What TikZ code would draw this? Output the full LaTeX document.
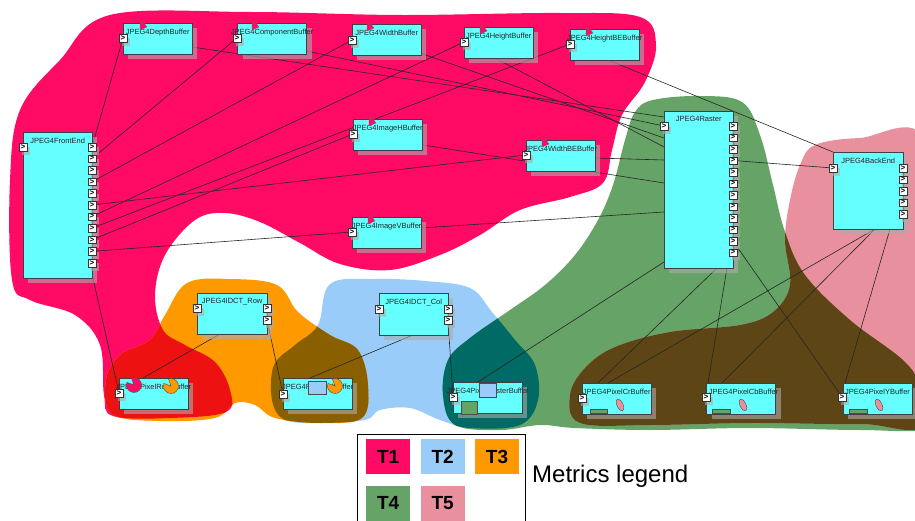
\documentclass[tikz,border=0pt]{standalone}
\usepackage{fontspec}
\setmainfont{Liberation Sans}
\usepackage{tikz}
\usetikzlibrary{positioning}
\usetikzlibrary{shapes,shadows}
\definecolor{boxcyan}{HTML}{66FFFF}
\definecolor{tone}{HTML}{FF0A64}
\definecolor{ttwo}{HTML}{9ACCFA}
\definecolor{tthree}{HTML}{FF9900}
\definecolor{tfour}{HTML}{66A366}
\definecolor{tfive}{HTML}{E8909E}
\definecolor{onethree}{HTML}{EE1111}
\definecolor{twothree}{HTML}{8A5F00}
\definecolor{twofour}{HTML}{006A64}
\definecolor{fourfive}{HTML}{5D4515}
\pgfdeclarelayer{blobs}
\pgfdeclarelayer{wires}
\pgfsetlayers{blobs,wires,main}
\tikzstyle{block} = [rectangle, draw=black!75, fill=boxcyan, anchor=north west,
    inner sep=0pt, minimum width=69pt, minimum height=31pt,
    drop shadow={shadow xshift=5pt, shadow yshift=-5pt, fill=gray!65, opacity=0.6}]
\tikzstyle{boxlabel} = [anchor=north, inner sep=0pt, yshift=-5.5pt,
    font=\fontsize{7.5}{8}\selectfont, text=black!85]
\tikzstyle{port} = [rectangle, draw=black!80, fill=white, minimum size=7.5pt, inner sep=0pt,
    font=\bfseries\fontsize{8}{8}\selectfont,
    drop shadow={shadow xshift=3pt, shadow yshift=-4pt, fill=gray!65, opacity=0.6}]
\tikzstyle{line} = [draw, black!85, line width=0.6pt]
\tikzstyle{tile} = [rectangle, anchor=north west, minimum width=44pt, minimum height=35pt,
    inner sep=0pt, font=\bfseries\fontsize{19}{20}\selectfont]
\tikzset{
  bufflag/.pic={\filldraw[fill=tone, draw=black!60, line width=.3pt] (0,0) -- (0,8) -- (7,5) .. controls (6,2) and (3,0) .. (0,0) -- cycle;},
  pacman/.pic={\filldraw[fill=#1, draw=black!70, line width=.4pt] (0,0) -- (250:7.5) arc[start angle=250, end angle=560, radius=7.5] -- cycle;},
  leaf/.pic={\filldraw[fill=tfive, draw=black!70, line width=.4pt, rotate=25] (0,0) ellipse [x radius=3, y radius=6.5];}
}
% blob outlines (pixel grid, y downwards)
\def\blobone{plot[smooth cycle, tension=0.6] coordinates {(110,15) (250,12) (400,15) (560,13) (640,17) (656,45) (645,82) (622,115) (612,150) (603,183) (570,197) (520,210) (480,235) (440,255) (390,270) (340,264) (300,243) (260,222) (225,213) (195,220) (165,255) (155,295) (163,330) (185,345) (215,362) (230,390) (226,412) (170,418) (113,416) (104,395) (100,345) (75,315) (30,300) (12,280) (10,180) (20,110) (60,60)}}
\def\blobtwo{plot[smooth cycle, tension=0.6] coordinates {(330,284) (375,279) (425,281) (470,288) (492,312) (515,340) (535,365) (538,400) (520,425) (470,428) (440,420) (410,408) (380,410) (365,420) (320,423) (285,420) (272,400) (274,365) (295,345) (318,325)}}
\def\blobthree{plot[smooth cycle, tension=0.6] coordinates {(187,283) (230,279) (277,285) (298,312) (330,335) (358,350) (368,385) (362,418) (320,423) (275,418) (255,405) (235,403) (215,418) (160,421) (112,414) (106,380) (120,355) (150,340) (165,315)}}
\def\blobfour{plot[smooth cycle, tension=0.6] coordinates {(653,100) (700,96) (742,102) (760,135) (773,185) (785,232) (805,275) (850,320) (905,362) (925,395) (928,428) (860,430) (750,428) (650,430) (575,428) (540,425) (500,430) (455,425) (443,395) (448,360) (470,338) (510,310) (545,285) (575,255) (598,220) (613,185) (625,140) (635,112)}}
\def\blobfive{plot[smooth cycle, tension=0.6] coordinates {(815,145) (860,138) (925,140) (932,300) (930,420) (860,424) (750,423) (650,425) (580,423) (570,395) (585,368) (615,347) (670,332) (740,325) (773,312) (790,285) (785,240) (790,200) (800,165)}}

\begin{document}
\begin{tikzpicture}[x=1pt, y=-1pt]
        \useasboundingbox (0,0) rectangle (915,521);
            % Metric regions
        \begin{pgfonlayer}{blobs}
        \fill [tone] \blobone;
        \fill [ttwo] \blobtwo;
        \fill [tthree] \blobthree;
        \fill [tfour] \blobfour;
        \fill [tfive] \blobfive;
        \begin{scope} \clip \blobone; \fill [onethree] \blobthree; \end{scope}
        \begin{scope} \clip \blobtwo; \fill [twothree] \blobthree; \end{scope}
        \begin{scope} \clip \blobtwo; \fill [twofour] \blobfour; \end{scope}
        \begin{scope} \clip \blobfour; \fill [fourfive] \blobfive; \end{scope}
        \end{pgfonlayer}
            % Nodes
        \node [block, label={[boxlabel]north:JPEG4DepthBuffer}] (depth) at (123,23) {};
        \node [block, right = 45pt of depth, label={[boxlabel]north:JPEG4ComponentBuffer}] (comp) {};
        \node [block, label={[boxlabel]north:JPEG4WidthBuffer}] (width) at (352,24) {};
        \node [block, label={[boxlabel]north:JPEG4HeightBuffer}] (height) at (464,27) {};
        \node [block, label={[boxlabel]north:JPEG4HeightBEBuffer}] (heightbe) at (570,29) {};
        \node [block, label={[boxlabel]north:JPEG4ImageHBuffer}] (imageh) at (353,119) {};
        \node [block, label={[boxlabel]north:JPEG4ImageVBuffer}] (imagev) at (352,217) {};
        \node [block, label={[boxlabel]north:JPEG4WidthBEBuffer}] (widthbe) at (526,140) {};
        \node [block, minimum height=146pt, label={[boxlabel]north:JPEG4FrontEnd}] (frontend) at (23,132) {};
        \node [block, minimum height=157pt, label={[boxlabel]north:JPEG4Raster}] (raster) at (664,111) {};
        \node [block, minimum width=70pt, minimum height=77pt, label={[boxlabel]north:JPEG4BackEnd}] (backend) at (833,152) {};
        \node [block, minimum width=70pt, minimum height=41pt, label={[boxlabel]north:JPEG4IDCT\_Row}] (idctrow) at (197,293) {};
        \node [block, minimum height=42pt, label={[boxlabel]north:JPEG4IDCT\_Col}] (idctcol) at (379,293) {};
        \node [block, label={[boxlabel]north:JPEG4PixelRowBuffer}] (rowbuf) at (119,378) {};
        \node [block, label={[boxlabel]north:JPEG4PixelColBuffer}] (colbuf) at (283,378) {};
        \node [block, label={[boxlabel]north:JPEG4PixelRasterBuffer}] (rasbuf) at (453,382) {};
        \node [block, label={[boxlabel]north:JPEG4PixelCrBuffer}] (crbuf) at (582,383) {};
        \node [block, right = 55pt of crbuf, label={[boxlabel, xshift=2.5pt]north:JPEG4PixelCbBuffer}] (cbbuf) {};
        \node [block, right = 67pt of cbbuf, label={[boxlabel]north:JPEG4PixelYBuffer}] (ybuf) {};
            % Ports
        \foreach \i in {1,...,11} \node [port] (fe-o\i) at (92,135.4+11.6*\i) {>};
        \foreach \i in {1,...,12} \node [port] (ras-o\i) at (733,114.5+11.5*\i) {>};
        \foreach \i in {1,...,5} \node [port] (be-o\i) at (903,156.5+11.5*\i) {>};
        \node [port] (fe-in) at (23,147) {>};
        \node [port] (ras-in) at (664,126) {>};
        \node [port] (be-in) at (833,168) {>};
        \node [port] (row-in) at (197,308) {>};
        \node [port] (row-o1) at (267,308) {>};
        \node [port] (row-o2) at (267,320) {>};
        \node [port] (col-in) at (379,309) {>};
        \node [port] (col-o1) at (448,309) {>};
        \node [port] (col-o2) at (448,320) {>};
        \node [port] (dep-in) at (123,38) {>};
        \node [port] (comp-in) at (237,38) {>};
        \node [port] (wid-in) at (352,40) {>};
        \node [port] (hgt-in) at (464,42) {>};
        \node [port] (hbe-in) at (570,44) {>};
        \node [port] (imh-in) at (353,134) {>};
        \node [port] (imv-in) at (352,232) {>};
        \node [port] (wbe-in) at (526,155) {>};
        \node [port] (rowb-in) at (119,393) {>};
        \node [port] (colb-in) at (283,394) {>};
        \node [port] (rasb-in) at (453,397) {>};
        \node [port] (cr-in) at (582,398) {>};
        \node [port] (cb-in) at (706,397) {>};
        \node [port] (y-in) at (842,397) {>};
            % Icons
        \pic at (140,22) {bufflag};
        \pic at (252,22) {bufflag};
        \pic at (367,23) {bufflag};
        \pic at (480,26) {bufflag};
        \pic at (586,28) {bufflag};
        \pic at (369,118) {bufflag};
        \pic at (368,216) {bufflag};
        \pic at (542,139) {bufflag};
        \pic at (134,385) {pacman=tone};
        \pic at (171,386) {pacman=tthree};
        \filldraw [fill=ttwo, draw=black!70, line width=.4pt] (308,381) rectangle (326,394);
        \pic at (335,386) {pacman=tthree};
        \filldraw [fill=ttwo, draw=black!70, line width=.4pt] (479,383) rectangle (496,397);
        \filldraw [fill=tfour, draw=black!70, line width=.4pt] (461,401) rectangle (477,414);
        \filldraw [fill=tfour, draw=black!70, line width=.4pt] (590,409) rectangle (607,413);
        \filldraw [fill=tfour, draw=black!70, line width=.4pt] (712,409) rectangle (730,413);
        \filldraw [fill=tfour, draw=black!70, line width=.4pt] (849,409) rectangle (867,413);
        \pic at (620,405) {leaf};
        \pic at (743,405) {leaf};
        \pic at (879,405) {leaf};
            % Attachment points
        \coordinate (dep-e) at (192,47);
        \coordinate (comp-e) at (306,51);
        \coordinate (wid-e) at (420,53);
        \coordinate (hgt-s) at (495,58);
        \coordinate (hbe-s) at (608,60);
        \coordinate (imh-e) at (423,145);
        \coordinate (imv-e) at (421,228);
        \coordinate (wbe-e) at (595,158);
        \coordinate (ras-w1) at (664,117);
        \coordinate (ras-w3) at (664,138);
        \coordinate (ras-w4) at (664,147);
        \coordinate (ras-w5) at (664,160);
        \coordinate (ras-w6) at (664,183);
        \coordinate (ras-w7) at (664,212);
        \coordinate (ras-sw) at (664,262);
        \coordinate (ras-s1) at (717,268);
        \coordinate (ras-s2) at (727,268);
        \coordinate (be-s1) at (875,229);
        \coordinate (be-s2) at (890,229);
        \coordinate (fe-s) at (92,274);
        \coordinate (row-s) at (220,334);
        \coordinate (col-s) at (413,335);
        \coordinate (rowb-n) at (143,378);
        \coordinate (colb-n) at (310,378);
        \coordinate (rasb-n) at (478,382);
        \coordinate (cr-n1) at (598,383);
        \coordinate (cr-n2) at (608,383);
        \coordinate (cb-n1) at (708,383);
        \coordinate (cb-n2) at (722,383);
        \coordinate (y-n) at (845,383);
            % Edges
        \begin{pgfonlayer}{wires}
        \path [line] (dep-in) -- (fe-o1);
        \path [line] (comp-in) -- (fe-o2);
        \path [line] (wid-in) -- (fe-o4);
        \path [line] (hgt-in) -- (fe-o7);
        \path [line] (hbe-in) -- (fe-o8);
        \path [line] (imh-in) -- (fe-o9);
        \path [line] (imv-in) -- (fe-o10);
        \path [line] (fe-o6) -- (wbe-in);
        \path [line] (fe-s) -- (rowb-in);
        \path [line] (dep-e) -- (ras-w1);
        \path [line] (comp-e) -- (ras-in);
        \path [line] (wid-e) -- (ras-w3);
        \path [line] (hgt-s) -- (ras-w4);
        \path [line] (hbe-s) -- (backend.north west);
        \path [line] (wbe-e) -- (ras-w5);
        \path [line] (imh-e) -- (ras-w6);
        \path [line] (imv-e) -- (ras-w7);
        \path [line] (ras-o4) -- (be-in);
        \path [line] (ras-o11) -- (y-in);
        \path [line] (ras-sw) -- (rasb-n);
        \path [line] (ras-s1) -- (cr-n1);
        \path [line] (ras-s2) -- (cb-n1);
        \path [line] (be-s1) -- (cr-n2);
        \path [line] (be-s1) -- (cb-n2);
        \path [line] (be-s2) -- (y-n);
        \path [line] (row-s) -- (rowb-n);
        \path [line] (row-o2) -- (colb-in);
        \path [line] (col-s) -- (colb-n);
        \path [line] (col-o2) -- (rasb-in);
        \end{pgfonlayer}
            % Legend
        \node [rectangle, draw=black, line width=0.8pt, anchor=north west, minimum width=168pt, minimum height=95pt] (legend) at (357,434) {};
        \node [tile, fill=tone] (leg1) at (366,439) {T1};
        \node [tile, fill=ttwo, right = 10pt of leg1] (leg2) {T2};
        \node [tile, fill=tthree, right = 10pt of leg2] (leg3) {T3};
        \node [tile, fill=tfour, below = 11pt of leg1] (leg4) {T4};
        \node [tile, fill=tfive, right = 10pt of leg4] (leg5) {T5};
        \node [anchor=west, inner sep=0pt, font=\fontsize{24}{26}\selectfont] (legtext) at (532,476) {Metrics legend};
    \end{tikzpicture}
\end{document}
